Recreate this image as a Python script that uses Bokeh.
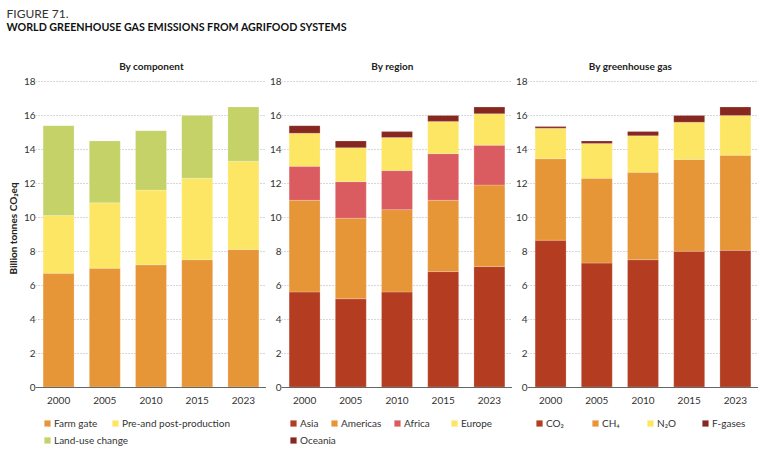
from math import pi
from bokeh.embed import file_html
from bokeh.layouts import column, row
from bokeh.models import FactorRange, Label, Legend, LegendItem, Range1d
from bokeh.plotting import figure
from bokeh.resources import INLINE

YEARS = ["2000", "2005", "2010", "2015", "2023"]
Y_TICKS = [0, 2, 4, 6, 8, 10, 12, 14, 16, 18]

FARM_GATE = [6.7, 7.0, 7.2, 7.5, 8.1]
PRE_POST = [3.4, 3.85, 4.4, 4.8, 5.2]
LAND_USE = [5.3, 3.65, 3.5, 3.7, 3.2]

ASIA = [5.6, 5.2, 5.6, 6.8, 7.1]
AMERICAS = [5.4, 4.75, 4.85, 4.2, 4.8]
AFRICA = [2.0, 2.15, 2.3, 2.75, 2.35]
EUROPE = [1.95, 2.0, 1.95, 1.9, 1.85]
OCEANIA = [0.45, 0.4, 0.35, 0.35, 0.4]

CO2 = [8.65, 7.3, 7.5, 8.0, 8.05]
CH4 = [4.8, 5.0, 5.15, 5.4, 5.6]
N2O = [1.8, 2.05, 2.15, 2.2, 2.35]
F_GASES = [0.1, 0.15, 0.25, 0.4, 0.5]

ORANGE = "#e69537"
YELLOW = "#fde663"
GREEN = "#c4d267"
RED = "#b43c20"
PINK = "#db5c60"
DARK = "#872820"
FONT = "Lato"
TEXT = "#333333"
PANEL_H = 413
TOP = 45
UNIT_PX = 305.5 / 18
ROW1 = 20
ROW2 = 3


def panel(title, title_x, series, legend_rows):
    p = figure(width=246, height=PANEL_H, output_backend="svg", toolbar_location=None,
               x_range=FactorRange(*YEARS, range_padding=0),
               y_range=Range1d(18 + TOP / UNIT_PX - PANEL_H / UNIT_PX, 18 + TOP / UNIT_PX),
               min_border_left=15, min_border_right=0,
               min_border_top=0, min_border_bottom=0)
    p.outline_line_color = None
    p.background_fill_color = None
    p.border_fill_color = None
    p.add_layout(Label(x=title_x, y=PANEL_H - 29, x_units="screen", y_units="screen",
                       text=title, text_align="center", text_baseline="middle",
                       text_font=FONT, text_font_size="10px", text_font_style="bold",
                       text_color="#222222"))

    data = {"year": YEARS}
    names = []
    colors = []
    for name, values, color in series:
        data[name] = values
        names.append(name)
        colors.append(color)
    bars = p.vbar_stack(names, x="year", width=0.67, color=colors, line_color="#ffffff",
                        line_alpha=0.35, line_width=0.6, source=data)
    by_name = dict(zip(names, bars))

    p.xgrid.visible = False
    p.ygrid.ticker = Y_TICKS
    p.ygrid.grid_line_color = "#9a9a9a"
    p.ygrid.grid_line_dash = [1, 2]
    p.ygrid.grid_line_width = 0.8

    p.yaxis.ticker = Y_TICKS
    p.yaxis.axis_line_color = None
    p.yaxis.major_tick_line_color = None
    p.yaxis.minor_tick_line_color = None
    p.yaxis.major_tick_out = 0
    p.yaxis.major_tick_in = 0
    p.yaxis.major_label_standoff = 0
    p.xaxis.fixed_location = 0
    p.xaxis.axis_line_color = "#666666"
    p.xaxis.axis_line_width = 1
    p.xaxis.major_tick_line_color = None
    p.xaxis.minor_tick_line_color = None
    p.xaxis.major_tick_out = 0
    p.xaxis.major_tick_in = 0
    p.xaxis.major_label_standoff = 10
    for ax in (p.xaxis[0], p.yaxis[0]):
        ax.major_label_text_font = FONT
        ax.major_label_text_font_size = "10px"
        ax.major_label_text_color = TEXT

    for name, label, dx, dy in legend_rows:
        p.add_layout(Legend(items=[LegendItem(label=label, renderers=[by_name[name]])],
                            location=(dx, dy), margin=0, padding=0, spacing=0,
                            glyph_width=8, glyph_height=8, label_standoff=3,
                            label_text_font=FONT, label_text_font_size="10px",
                            label_text_color=TEXT, label_height=8,
                            background_fill_alpha=0, border_line_color=None))
    return p


p1 = panel("By component", 116,
           [("farm", FARM_GATE, ORANGE), ("prepost", PRE_POST, YELLOW), ("land", LAND_USE, GREEN)],
           [("farm", "Farm gate", 8, ROW1), ("prepost", "Pre-and post-production", 76, ROW1),
            ("land", "Land-use change", 8, ROW2)])
p2 = panel("By region", 111,
           [("asia", ASIA, RED), ("americas", AMERICAS, ORANGE), ("africa", AFRICA, PINK),
            ("europe", EUROPE, YELLOW), ("oceania", OCEANIA, DARK)],
           [("asia", "Asia", 8, ROW1), ("americas", "Americas", 49, ROW1),
            ("africa", "Africa", 112, ROW1), ("europe", "Europe", 169, ROW1),
            ("oceania", "Oceania", 8, ROW2)])
p3 = panel("By greenhouse gas", 103,
           [("co2", CO2, RED), ("ch4", CH4, ORANGE), ("n2o", N2O, YELLOW), ("fg", F_GASES, DARK)],
           [("co2", "CO₂", 8, ROW1), ("ch4", "CH₄", 64, ROW1),
            ("n2o", "N₂O", 119, ROW1), ("fg", "F-gases", 174, ROW1)])

strip = figure(width=20, height=PANEL_H, output_backend="svg", toolbar_location=None,
               x_axis_location=None, y_axis_location=None, min_border=0,
               x_range=Range1d(0, 1), y_range=Range1d(0, 1))
strip.outline_line_color = None
strip.grid.visible = False
strip.add_layout(Label(x=12, y=221, x_units="screen", y_units="screen",
                       text="Billion tonnes CO₂eq", angle=pi / 2,
                       text_align="center", text_baseline="middle",
                       text_font=FONT, text_font_size="10px", text_font_style="bold",
                       text_color="#222222"))

head = figure(width=758, height=36, output_backend="svg", toolbar_location=None,
              x_axis_location=None, y_axis_location=None, min_border=0,
              x_range=Range1d(0, 1), y_range=Range1d(0, 1))
head.outline_line_color = None
head.grid.visible = False
head.add_layout(Label(x=6, y=23, x_units="screen", y_units="screen", text="FIGURE 71.",
                      text_font=FONT, text_font_size="12px", text_color=TEXT,
                      text_baseline="middle"))
head.add_layout(Label(x=6, y=10, x_units="screen", y_units="screen",
                      text="WORLD GREENHOUSE GAS EMISSIONS FROM AGRIFOOD SYSTEMS",
                      text_font=FONT, text_font_size="10.7px", text_font_style="bold",
                      text_color="#111111", text_baseline="middle"))

page = column(head, row(strip, p1, p2, p3, spacing=0), spacing=0)
open("out.html", "w").write(file_html(page, INLINE))
